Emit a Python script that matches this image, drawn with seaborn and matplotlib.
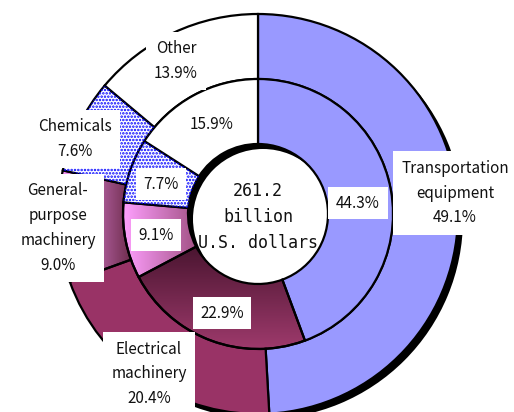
import matplotlib
matplotlib.use("Agg")
import matplotlib.pyplot as plt
from matplotlib.colors import LinearSegmentedColormap
from matplotlib.patches import Wedge
import numpy as np
import seaborn as sns

# data
categories = ["Transportation\nequipment", "Electrical\nmachinery",
              "General-\npurpose\nmachinery", "Chemicals", "Other"]
outer_share = [49.1, 20.4, 9.0, 7.6, 13.9]
inner_share = [44.3, 22.9, 9.1, 7.7, 15.9]
total_text = "261.2\nbillion\nU.S. dollars"

sns.set_theme(style="white")
plt.rcParams["font.family"] = ["Noto Sans CJK JP", "DejaVu Sans"]
plt.rcParams["hatch.linewidth"] = 1.2

W, H = 514, 412
fig = plt.figure(figsize=(W / 100, H / 100), dpi=100)
ax = fig.add_axes([0, 0, 1, 1])

cx, cy = 258, H - 214
r_out, r_mid, r_hole = 200, 135, 70

blue = "#9999FF"
plum = "#993366"


def shade(wedge, c0, c1, vertical=False):
    """Fill a wedge with a linear gradient (left->right or top->bottom)"""
    cmap = LinearSegmentedColormap.from_list("g", [c0, c1])
    ext = wedge.get_path().get_extents()
    g = np.linspace(0, 1, 256)
    img = g.reshape(-1, 1) if vertical else g.reshape(1, -1)
    im = ax.imshow(img, cmap=cmap, extent=[ext.x0, ext.x1, ext.y0, ext.y1],
                   origin="upper", aspect="auto", zorder=wedge.get_zorder() - 0.05,
                   interpolation="bilinear")
    im.set_clip_path(wedge)
    wedge.set_facecolor("none")


def dots(wedge):
    """Blue dotted pattern on top of a white wedge"""
    ov = Wedge(wedge.center, wedge.r, wedge.theta1, wedge.theta2,
               width=wedge.width, facecolor="none", edgecolor="#0000FF",
               hatch=".....", linewidth=0, zorder=wedge.get_zorder() + 0.05)
    ax.add_patch(ov)


# drop shadow
ax.pie([1], radius=r_out, center=(cx + 5, cy - 5), colors=["black"],
       wedgeprops=dict(width=r_out - r_hole, linewidth=0, zorder=1))

ring = dict(edgecolor="black", linewidth=1.6)
outer, _ = ax.pie(outer_share, radius=r_out, center=(cx, cy), startangle=90,
                  counterclock=False,
                  colors=[blue, plum, plum, "white", "white"],
                  wedgeprops=dict(width=r_out - r_mid, zorder=3, **ring))
inner, _ = ax.pie(inner_share, radius=r_mid, center=(cx, cy), startangle=90,
                  counterclock=False,
                  colors=[blue, plum, plum, "white", "white"],
                  wedgeprops=dict(width=r_mid - r_hole, zorder=3, **ring))

shade(outer[2], "#FF9CFF", "#6E2C4C")
shade(inner[1], "#4A1530", "#9E3A6C", vertical=True)
shade(inner[2], "#FFA0FF", "#A25285")
dots(outer[3])
dots(inner[3])

outer_pos = [(455, 193), (149, 374), (58, 228), (75, 139), (176, 61)]
for name, val, (x, y) in zip(categories, outer_share, outer_pos):
    ax.text(x, H - y, f"{name}\n{val:.1f}%", ha="center", va="center",
            fontsize=11, linespacing=1.6, color="#111111", zorder=6,
            bbox=dict(boxstyle="square,pad=0.55", facecolor="white", edgecolor="none"))

inner_pos = [(358, 203), (222, 313), (156, 235), (161, 184), (212, 124)]
for val, (x, y) in zip(inner_share, inner_pos):
    ax.text(x, H - y, f"{val:.1f}%", ha="center", va="center",
            fontsize=11, color="#111111", zorder=6,
            bbox=dict(boxstyle="square,pad=0.5", facecolor="white", edgecolor="none"))

ax.text(cx, H - 217, total_text, ha="center", va="center", fontsize=12,
        family="DejaVu Sans Mono", linespacing=1.6, color="#111111", zorder=6)

ax.set_xlim(0, W)
ax.set_ylim(0, H)
ax.set_aspect("equal")
ax.axis("off")

fig.savefig("out.png", dpi=100, facecolor="white")
